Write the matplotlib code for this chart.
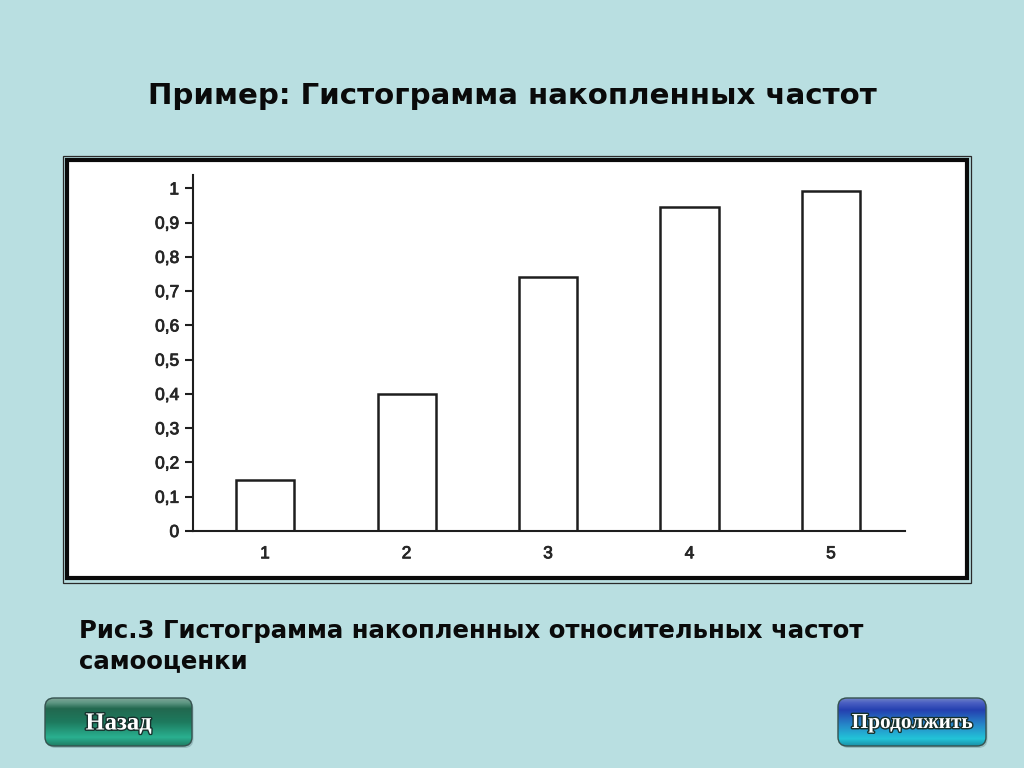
import matplotlib
matplotlib.use("Agg")
import matplotlib.pyplot as plt
import numpy as np
from matplotlib.patches import Rectangle, FancyBboxPatch
from matplotlib.colors import LinearSegmentedColormap
import matplotlib.patheffects as pe

# ---- data ----
categories = [1, 2, 3, 4, 5]
cum_freq = [0.15, 0.40, 0.74, 0.945, 0.993]
y_ticks = [0, 0.1, 0.2, 0.3, 0.4, 0.5, 0.6, 0.7, 0.8, 0.9, 1.0]
y_tick_labels = ["0", "0,1", "0,2", "0,3", "0,4", "0,5", "0,6", "0,7", "0,8", "0,9", "1"]
x_tick_labels = ["1", "2", "3", "4", "5"]
title_text = "Пример: Гистограмма накопленных частот"
caption_line1 = "Рис.3 Гистограмма накопленных относительных частот"
caption_line2 = "самооценки"
btn_back = "Назад"
btn_next = "Продолжить"

BG = "#b9dfe1"
W, H = 1024, 768

fig = plt.figure(figsize=(W / 100, H / 100), dpi=100, facecolor=BG)
renderer = fig.canvas.get_renderer()

# background / decoration axes in pixel coordinates
bg = fig.add_axes([0, 0, 1, 1], zorder=-5)
bg.set_xlim(0, W)
bg.set_ylim(H, 0)
bg.axis("off")
bg.set_facecolor(BG)


def fit_width(t, target_px):
    """Scale the font size of text t so that its rendered width equals target_px."""
    for _ in range(3):
        w = t.get_window_extent(renderer=renderer).width
        t.set_fontsize(t.get_fontsize() * target_px / w)


# chart frame: thin outer line + thick inner line, white fill
bg.add_patch(Rectangle((62.5, 156), 971 - 62.5, 582.5 - 156, facecolor="none",
                       edgecolor="#2a2a2a", linewidth=0.9))
bg.add_patch(Rectangle((66.5, 160), 967 - 66.5, 578 - 160, facecolor="white",
                       edgecolor="#0a0a0a", linewidth=3.0))

# title and caption
t1 = bg.text(512.5, 104, title_text, ha="center", va="baseline", fontsize=21,
             fontweight="bold", family="DejaVu Sans", color="#0a0a0a")
t2 = bg.text(79, 638, caption_line1, ha="left", va="baseline", fontsize=18,
             fontweight="bold", family="DejaVu Sans", color="#0a0a0a")
t3 = bg.text(79, 668, caption_line2, ha="left", va="baseline", fontsize=18,
             fontweight="bold", family="DejaVu Sans", color="#0a0a0a")
fit_width(t1, 729)
fit_width(t2, 794)
t3.set_fontsize(t2.get_fontsize())


def button(x0, y0, x1, y1, stops, label, label_w):
    shadow = FancyBboxPatch((x0 + 1.5, y0 + 2), x1 - x0, y1 - y0,
                            boxstyle="round,pad=0,rounding_size=9",
                            facecolor="#7fa3a6", edgecolor="none", alpha=0.6)
    bg.add_patch(shadow)
    patch = FancyBboxPatch((x0, y0), x1 - x0, y1 - y0,
                           boxstyle="round,pad=0,rounding_size=9",
                           facecolor="none", edgecolor="#35524f", linewidth=1.0,
                           zorder=2)
    bg.add_patch(patch)
    cmap = LinearSegmentedColormap.from_list("g", stops)
    grad = np.linspace(0, 1, 256).reshape(-1, 1)
    im = bg.imshow(grad, cmap=cmap, extent=(x0, x1, y1, y0), aspect="auto",
                   origin="upper", zorder=1)
    im.set_clip_path(patch)
    bg.set_xlim(0, W)
    bg.set_ylim(H, 0)
    t = bg.text((x0 + x1) / 2, (y0 + y1) / 2 + 1, label, ha="center", va="center",
                fontsize=14, fontweight="bold", family="Liberation Serif",
                color="white", zorder=3,
                path_effects=[pe.withStroke(linewidth=2, foreground="#16302c")])
    fit_width(t, label_w)


button(45, 698, 192, 746,
       [(0.0, "#7ea697"), (0.1, "#5d9682"), (0.22, "#22684f"), (0.5, "#1d7a5e"),
        (0.82, "#2ab090"), (1.0, "#1f7c63")], btn_back, 66)
button(838, 698, 986, 746,
       [(0.0, "#6f82c8"), (0.1, "#4a5fc2"), (0.25, "#2440b0"), (0.55, "#2686c8"),
        (0.85, "#22c4d8"), (1.0, "#1a8fa6")], btn_next, 122)

# ---- chart axes ----
ax_l, ax_r = 193 / W, 905 / W
ax_b, ax_t = 1 - 531 / H, 1 - 175 / H
ax = fig.add_axes([ax_l, ax_b, ax_r - ax_l, ax_t - ax_b], zorder=2)
ax.patch.set_alpha(0)

ax.bar(categories, cum_freq, width=0.41, facecolor="white",
       edgecolor="#1e1e1e", linewidth=1.8)

ax.set_xlim(0.491, 5.523)
ax.set_ylim(0, 1.039)
ax.set_yticks(y_ticks)
ax.set_yticklabels(y_tick_labels)
ax.set_xticks(categories)
ax.set_xticklabels(x_tick_labels)

for s in ["top", "right"]:
    ax.spines[s].set_visible(False)
for s in ["left", "bottom"]:
    ax.spines[s].set_linewidth(1.5)
    ax.spines[s].set_color("#1e1e1e")

ax.tick_params(axis="y", direction="out", length=6, width=1.5, color="#1e1e1e",
               pad=4, labelsize=12.5, labelcolor="#262626")
ax.tick_params(axis="x", length=0, pad=11, labelsize=12.5, labelcolor="#262626")
for lab in ax.get_xticklabels() + ax.get_yticklabels():
    lab.set_family("Liberation Sans")
    lab.set_path_effects([pe.withStroke(linewidth=0.6, foreground="#262626")])

fig.savefig("out.png", dpi=100, facecolor=BG)
